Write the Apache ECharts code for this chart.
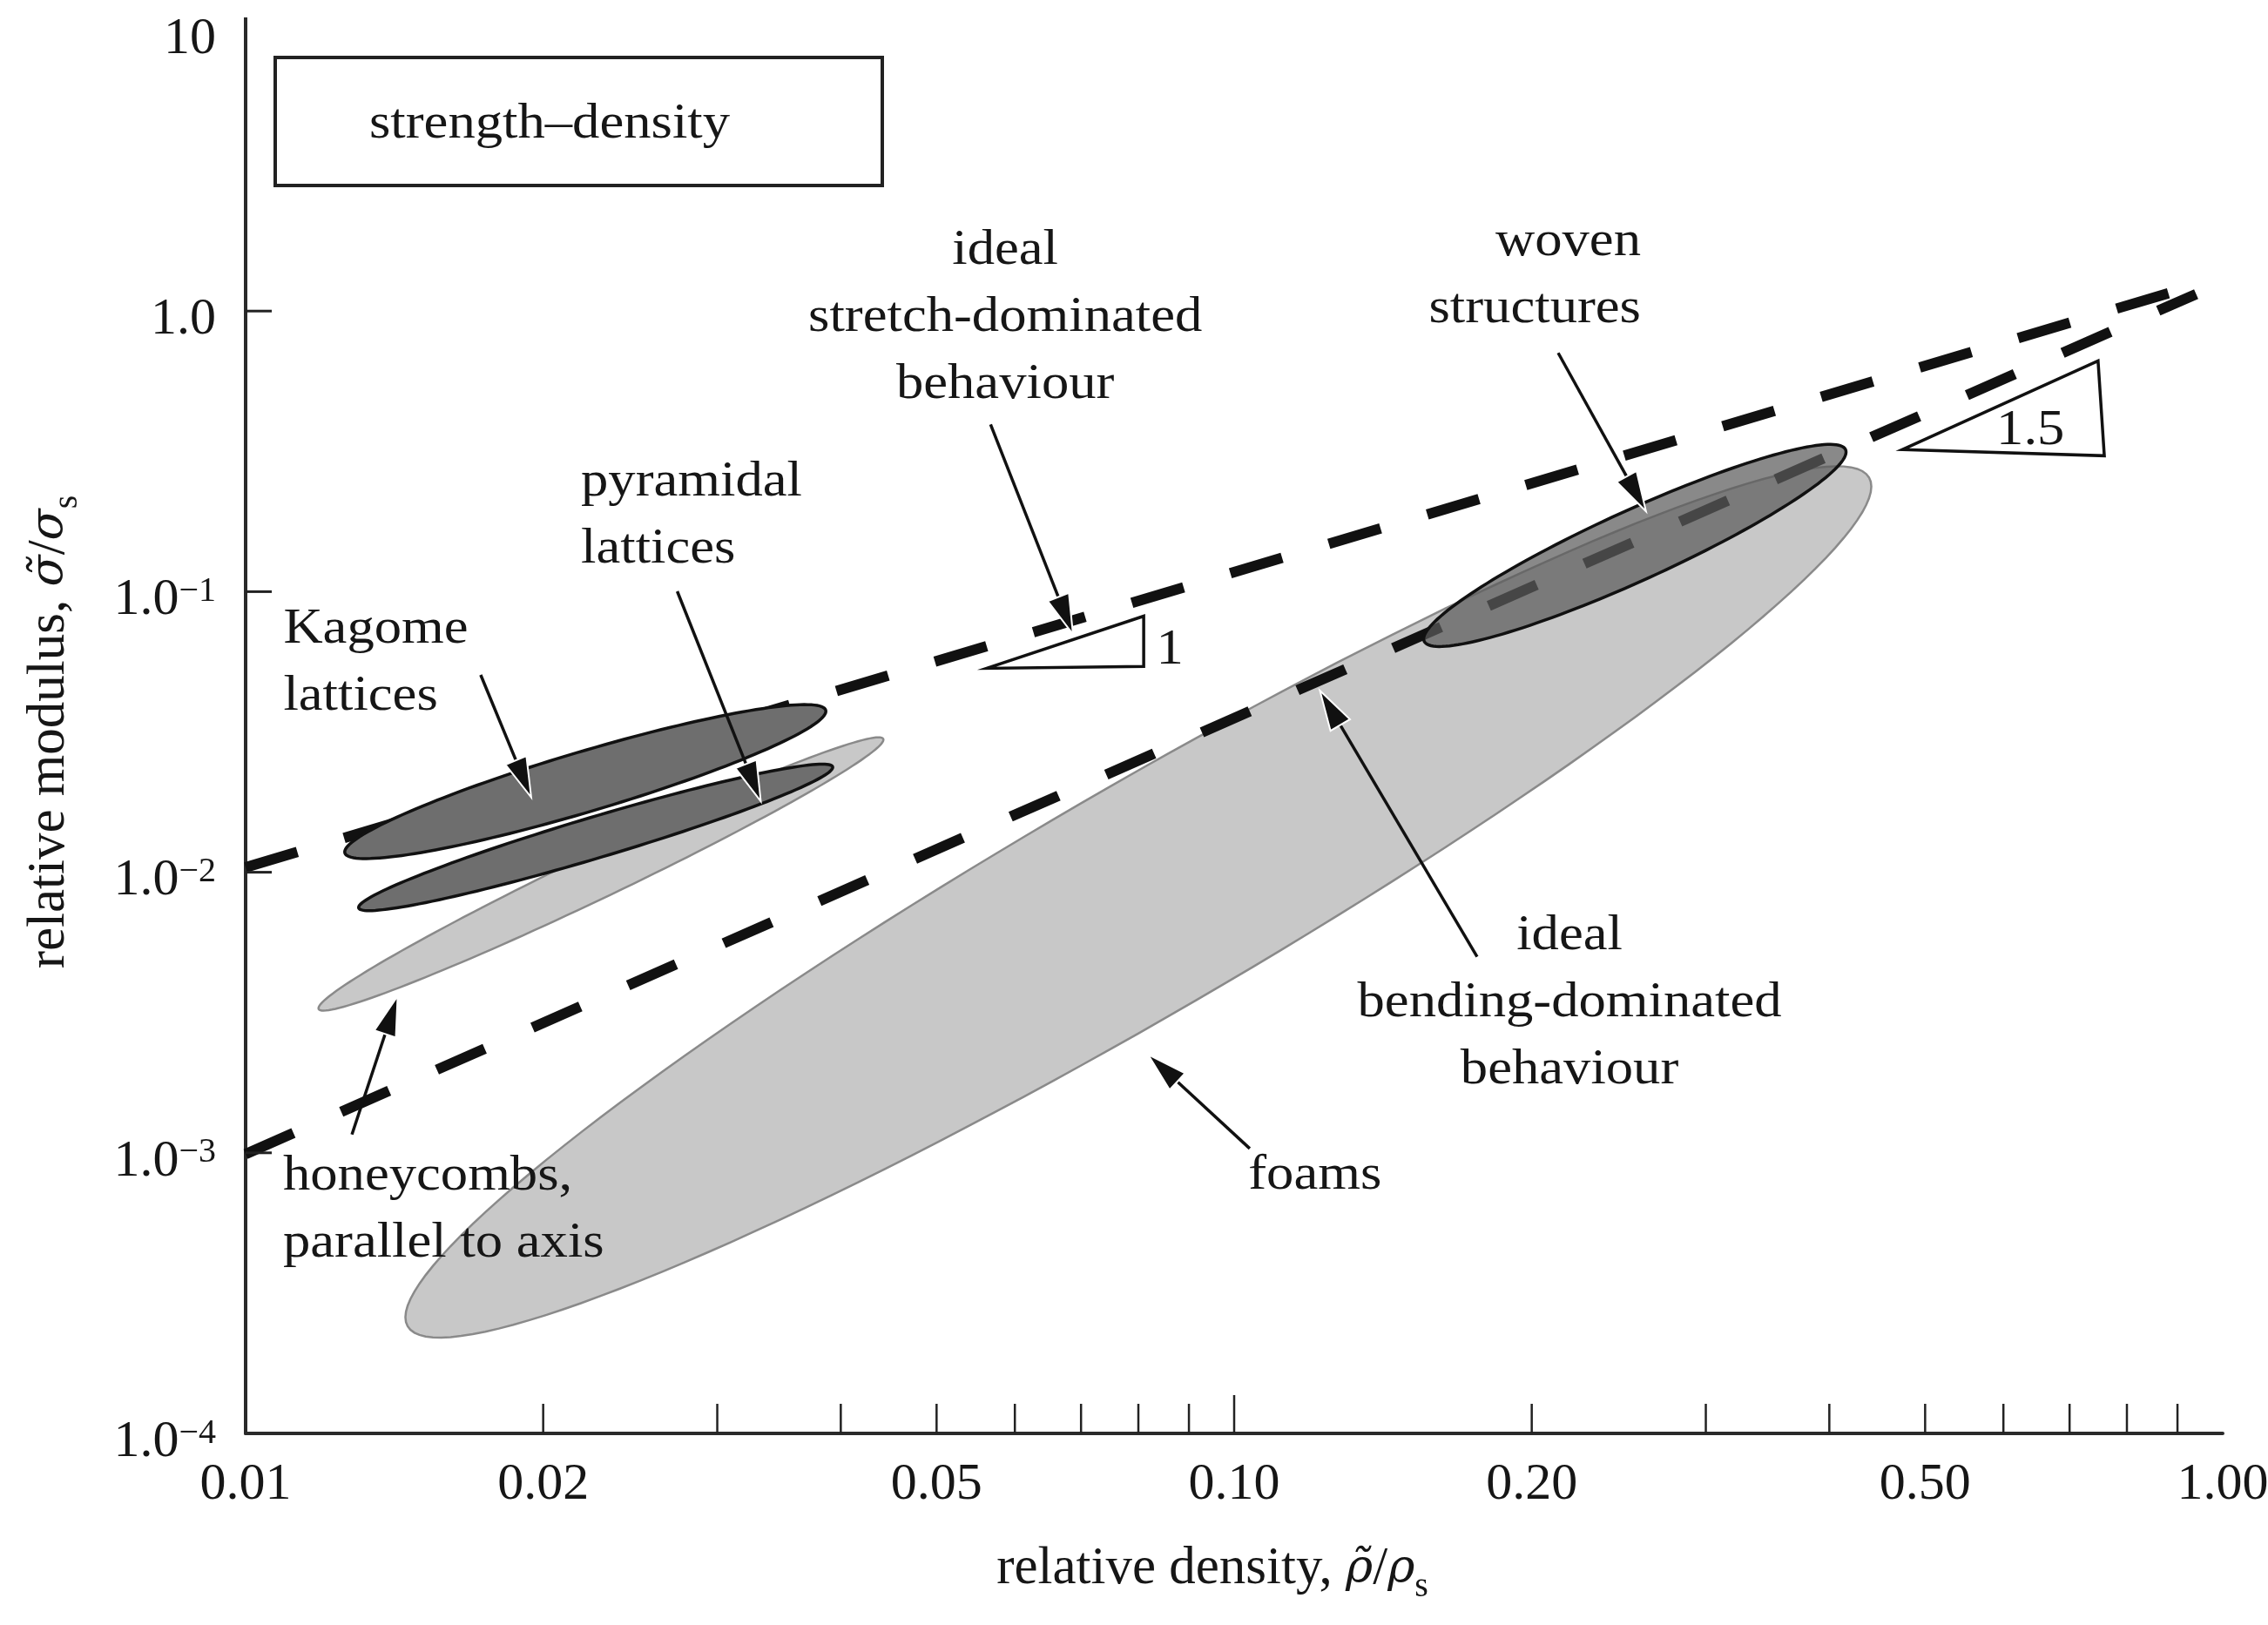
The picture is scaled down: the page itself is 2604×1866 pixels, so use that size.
<!DOCTYPE html>
<html><head><meta charset="utf-8">
<script src="https://cdn.jsdelivr.net/npm/echarts@6/dist/echarts.min.js"></script>
<style>html,body{margin:0;padding:0;background:#fff}#c{width:2604px;height:1866px}</style>
</head><body><div id="c"></div>
<script>
const FONT = '"Liberation Serif","Times New Roman",serif';
const GREEK = '"DejaVu Serif",serif';
const INK = '#161616';

// ---------- axes ----------
const xMin = 0.01, xMax = 1.0, yMin = 1e-4, yMax = 10;
const xLabelValues = [0.01, 0.02, 0.05, 0.10, 0.20, 0.50, 1.00];
const xLabelTexts  = ['0.01', '0.02', '0.05', '0.10', '0.20', '0.50', '1.00'];
const xTickValues  = [0.02, 0.03, 0.04, 0.05, 0.06, 0.07, 0.08, 0.09, 0.10, 0.2, 0.3, 0.4, 0.5, 0.6, 0.7, 0.8, 0.9];
const yTickValues  = [1e-3, 1e-2, 1e-1, 1];
const xTitleParts = ['relative density, ', 'ρ̃', '/', 'ρ', 's'];
const yTitleParts = ['relative modulus, ', 'σ̃', '/', 'σ', 's'];
const boxTitle = 'strength–density';

// ---------- ideal scaling lines (x, y) ----------
const stretchLine = [[0.01, 0.0104], [0.94, 1.24]];
const bendingLine = [[0.01, 0.00099], [0.94, 1.15]];

// ---------- material envelopes (ellipses in log space) ----------
const ellipseNames   = ['foams', 'honeycombs', 'pyramidal lattices', 'Kagome lattices', 'woven structures'];
const ellipseCenterX = [0.0800, 0.02288, 0.02260, 0.02206, 0.2543];
const ellipseCenterY = [0.00784, 0.009858, 0.01331, 0.02104, 0.1461];
const ellipseTipX    = [0.4388, 0.04416, 0.03925, 0.03862, 0.4154];
const ellipseTipY    = [0.2551, 0.02987, 0.02375, 0.03780, 0.3208];
const ellipseAspect  = [0.135, 0.073, 0.083, 0.12, 0.152];

// ---------- slope triangles ----------
const triangleX = [[0.0562, 0.0810, 0.0810], [0.474, 0.748, 0.759]];
const triangleY = [[0.0533, 0.0818, 0.0541], [0.3208, 0.665, 0.305]];
const slopeTexts = ['1', '1.5'];
const slopeTextX = [0.0861, 0.639];
const slopeTextY = [0.0619, 0.3754];

// ---------- annotation arrows (from -> tip) ----------
const arrowFromX = [0.0567, 0.01729, 0.02733, 0.01281, 0.1037, 0.1761, 0.2127];
const arrowFromY = [0.3946, 0.0505, 0.1003, 0.001162, 0.001036, 0.004997, 0.7095];
const arrowTipX  = [0.0687, 0.01945, 0.0332, 0.01425, 0.0818, 0.1221, 0.2610];
const arrowTipY  = [0.0705, 0.01849, 0.0179, 0.003622, 0.002243, 0.04441, 0.1931];

// ---------- annotation texts ----------
const noteLines = [
  ['ideal', 'stretch-dominated', 'behaviour'],
  ['woven', 'structures'],
  ['pyramidal', 'lattices'],
  ['Kagome', 'lattices'],
  ['honeycombs,', 'parallel to axis'],
  ['ideal', 'bending-dominated', 'behaviour'],
  ['foams']
];
const noteX = [0.05867, 0.2579, 0.02184, 0.01092, 0.01091, 0.2184, 0.1207];
const noteY = [0.9478, 1.336, 0.1863, 0.05563, 0.0006259, 0.003421, 0.0008305];
const noteAnchor = ['center', 'right', 'left', 'left', 'left', 'center', 'center'];

// ---------- build ----------
function ellipseData(names) {
  return names.map(n => {
    const i = ellipseNames.indexOf(n);
    return [ellipseCenterX[i], ellipseCenterY[i], ellipseTipX[i], ellipseTipY[i], ellipseAspect[i]];
  });
}
function ellipsePoints(api) {
  const c = api.coord([api.value(0), api.value(1)]);
  const t = api.coord([api.value(2), api.value(3)]);
  const r = api.value(4);
  const ux = t[0] - c[0], uy = t[1] - c[1];
  const vx = -uy * r, vy = ux * r;
  const pts = [];
  const N = 160;
  for (let k = 0; k < N; k++) {
    const a = k / N * Math.PI * 2;
    pts.push([c[0] + Math.cos(a) * ux + Math.sin(a) * vx, c[1] + Math.cos(a) * uy + Math.sin(a) * vy]);
  }
  return pts;
}
function ellipseSeries(name, names, style, z) {
  return {
    type: 'custom', name: name, silent: true, clip: false, z: z,
    data: ellipseData(names),
    encode: { x: 0, y: 1 },
    renderItem: (params, api) => ({ type: 'polygon', shape: { points: ellipsePoints(api) }, style: style })
  };
}
function titleRich(parts) {
  return '{n|' + parts[0] + '}{g|' + parts[1] + '}{n|' + parts[2] + '}{g|' + parts[3] + '}{sub|' + parts[4] + '}';
}
const titleRichStyles = {
  n: { fontFamily: FONT, fontSize: 61, lineHeight: 80, color: INK },
  g: { fontFamily: GREEK, fontStyle: 'italic', fontSize: 53, lineHeight: 80, color: INK },
  sub: { fontFamily: FONT, fontSize: 40, lineHeight: 40, verticalAlign: 'bottom', color: INK }
};

const TXT = 58, SX = 1.08, LH = 77;

const option = {
  animation: false,
  backgroundColor: '#fff',
  grid: { left: 282, right: 52, top: 35, bottom: 220, containLabel: false },
  xAxis: {
    type: 'log', logBase: 10, min: xMin, max: xMax,
    axisLine: { show: true, lineStyle: { color: '#2a2a2a', width: 4 } },
    axisTick: { show: false }, axisLabel: { show: false }, splitLine: { show: false },
    name: titleRich(xTitleParts), nameLocation: 'middle', nameGap: 116,
    nameTextStyle: { rich: titleRichStyles, padding: [0, 50, 0, 0] }
  },
  yAxis: {
    type: 'log', logBase: 10, min: yMin, max: yMax,
    axisLine: { show: true, lineStyle: { color: '#2a2a2a', width: 4 } },
    axisTick: { show: false }, splitLine: { show: false },
    axisLabel: {
      margin: 34,
      padding: [20, 0, 0, 0],
      formatter: v => {
        const e = Math.round(Math.log10(v));
        if (e === 1) return '{b|10}';
        if (e === 0) return '{b|1.0}';
        return '{b|1.0}{s|−' + (-e) + '}';
      },
      rich: {
        b: { fontFamily: FONT, fontSize: 60, lineHeight: 60, color: INK },
        s: { fontFamily: FONT, fontSize: 40, lineHeight: 40, verticalAlign: 'top', color: INK }
      }
    },
    name: titleRich(yTitleParts), nameLocation: 'middle', nameGap: 185, nameRotate: 90,
    nameTextStyle: { rich: titleRichStyles }
  },
  graphic: [
    { type: 'line', shape: { x1: 282, y1: 20, x2: 282, y2: 40 }, style: { stroke: '#2a2a2a', lineWidth: 4 }, z: 100 },
    { type: 'rect', shape: { x: 316, y: 66, width: 697, height: 147 }, style: { fill: '#fff', stroke: '#222', lineWidth: 4 }, z: 100 },
    { type: 'text', x: 631, y: 143, scaleX: SX, z: 101,
      style: { text: boxTitle, x: 0, y: 0, align: 'center', verticalAlign: 'middle', fontFamily: FONT, fontSize: TXT, fill: INK } }
  ],
  series: [
    // light envelopes
    ellipseSeries('light', ['foams', 'honeycombs'], { fill: '#c8c8c8', stroke: '#8a8a8a', lineWidth: 2.5 }, 1),
    // ideal lines
    { type: 'line', name: 'stretch', data: stretchLine, symbol: 'none', silent: true, z: 2,
      lineStyle: { color: '#111', width: 12, type: [62, 56], cap: 'butt' } },
    { type: 'line', name: 'bending', data: bendingLine, symbol: 'none', silent: true, z: 2,
      lineStyle: { color: '#111', width: 12, type: [60, 60], cap: 'butt' } },
    // dark envelopes: fills then outlines
    ellipseSeries('darkFill', ['pyramidal lattices', 'Kagome lattices'], { fill: '#6e6e6e', stroke: null }, 3),
    ellipseSeries('darkLine', ['pyramidal lattices', 'Kagome lattices'], { fill: null, stroke: '#111', lineWidth: 3.5 }, 3),
    ellipseSeries('woven', ['woven structures'], { fill: 'rgba(92,92,92,0.72)', stroke: '#111', lineWidth: 3.5 }, 3),
    // slope triangles
    {
      type: 'custom', name: 'triangles', silent: true, clip: false, z: 4,
      data: triangleX.map((xs, i) => [xs[0], triangleY[i][0]]),
      encode: { x: 0, y: 1 },
      renderItem: (params, api) => {
        const i = params.dataIndex;
        const pts = triangleX[i].map((x, k) => api.coord([x, triangleY[i][k]]));
        return { type: 'polygon', shape: { points: pts }, style: { fill: '#fff', stroke: '#111', lineWidth: 3.5 } };
      }
    },
    {
      type: 'custom', name: 'slopeText', silent: true, clip: false, z: 5,
      data: slopeTextX.map((x, i) => [x, slopeTextY[i]]),
      encode: { x: 0, y: 1 },
      renderItem: (params, api) => {
        const p = api.coord([api.value(0), api.value(1)]);
        return { type: 'text', x: p[0], y: p[1], scaleX: SX,
          style: { text: slopeTexts[params.dataIndex], x: 0, y: 0, align: 'center', verticalAlign: 'middle', fontFamily: FONT, fontSize: TXT, fill: INK } };
      }
    },
    // arrows
    {
      type: 'custom', name: 'arrows', silent: true, clip: false, z: 5,
      data: arrowFromX.map((x, i) => [x, arrowFromY[i], arrowTipX[i], arrowTipY[i]]),
      encode: { x: 0, y: 1 },
      renderItem: (params, api) => {
        const a = api.coord([api.value(0), api.value(1)]);
        const b = api.coord([api.value(2), api.value(3)]);
        const dx = b[0] - a[0], dy = b[1] - a[1], L = Math.hypot(dx, dy);
        const ux = dx / L, uy = dy / L, hl = 46, hw = 13;
        const bx = b[0] - ux * hl, by = b[1] - uy * hl;
        return { type: 'group', children: [
          { type: 'line', shape: { x1: a[0], y1: a[1], x2: bx + ux * 6, y2: by + uy * 6 }, style: { stroke: '#111', lineWidth: 3.5 } },
          { type: 'polygon', shape: { points: [[b[0], b[1]], [bx - uy * hw, by + ux * hw], [bx + uy * hw, by - ux * hw]] },
            style: { fill: '#111', stroke: '#fff', lineWidth: 2 } }
        ] };
      }
    },
    // x ticks
    {
      type: 'custom', name: 'xticks', silent: true, clip: false, z: 5,
      data: xTickValues.map(v => [v, yMin]),
      encode: { x: 0, y: 1 },
      renderItem: (params, api) => {
        const v = api.value(0);
        const p = api.coord([v, yMin]);
        const lg = Math.log10(v);
        const len = Math.abs(lg - Math.round(lg)) < 1e-6 ? 44 : 34;
        return { type: 'line', shape: { x1: p[0], y1: p[1], x2: p[0], y2: p[1] - len }, style: { stroke: '#222', lineWidth: 2.5 } };
      }
    },
    // y ticks
    {
      type: 'custom', name: 'yticks', silent: true, clip: false, z: 5,
      data: yTickValues.map(v => [xMin, v]),
      encode: { x: 0, y: 1 },
      renderItem: (params, api) => {
        const p = api.coord([xMin, api.value(1)]);
        return { type: 'line', shape: { x1: p[0], y1: p[1], x2: p[0] + 30, y2: p[1] }, style: { stroke: '#222', lineWidth: 3 } };
      }
    },
    // x tick labels
    {
      type: 'custom', name: 'xlabels', silent: true, clip: false, z: 5,
      data: xLabelValues.map(v => [v, yMin]),
      encode: { x: 0, y: 1 },
      renderItem: (params, api) => {
        const p = api.coord([api.value(0), yMin]);
        return { type: 'text', x: p[0], y: p[1] + 59,
          style: { text: xLabelTexts[params.dataIndex], x: 0, y: 0, align: 'center', verticalAlign: 'middle', fontFamily: FONT, fontSize: 60, fill: INK } };
      }
    },
    // annotation texts
    {
      type: 'custom', name: 'notes', silent: true, clip: false, z: 5,
      data: noteX.map((x, i) => [x, noteY[i]]),
      encode: { x: 0, y: 1 },
      renderItem: (params, api) => {
        const i = params.dataIndex;
        const p = api.coord([api.value(0), api.value(1)]);
        return { type: 'text', x: p[0], y: p[1], scaleX: SX,
          style: { text: noteLines[i].join('\n'), x: 0, y: 0, align: noteAnchor[i], verticalAlign: 'middle',
            fontFamily: FONT, fontSize: TXT, lineHeight: LH, fill: INK } };
      }
    }
  ]
};

const chart = echarts.init(document.getElementById('c'), null, { renderer: 'canvas' });
chart.setOption(option);
</script>
</body></html>
